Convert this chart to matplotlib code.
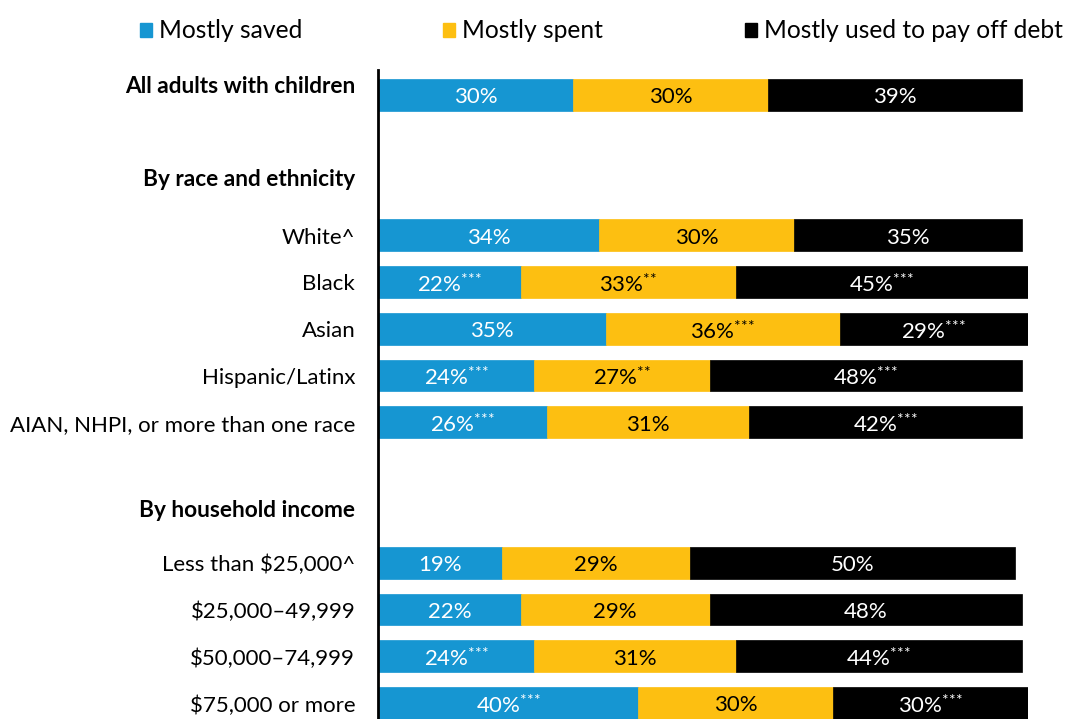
import matplotlib
matplotlib.use("Agg")
import matplotlib.pyplot as plt
from matplotlib.patches import Rectangle

plt.rcParams['font.family'] = ['Lato', 'DejaVu Sans']
plt.rcParams['mathtext.fontset'] = 'custom'
plt.rcParams['mathtext.rm'] = 'Lato'
plt.rcParams['mathtext.it'] = 'Lato'
plt.rcParams['mathtext.bf'] = 'Lato:bold'

# Row labels (positions in row units, top to bottom)
categories = ["All adults with children",
              "White^", "Black", "Asian", "Hispanic/Latinx",
              "AIAN, NHPI, or more than one race",
              "Less than $25,000^", "$25,000\u201349,999",
              "$50,000\u201374,999", "$75,000 or more"]
row_pos = [0, 3, 4, 5, 6, 7, 10, 11, 12, 13]

headings = ["By race and ethnicity", "By household income"]
heading_pos = [1.77, 8.84]

series = ["Mostly saved", "Mostly spent", "Mostly used to pay off debt"]
saved = [30, 34, 22, 35, 24, 26, 19, 22, 24, 40]
spent = [30, 30, 33, 36, 27, 31, 29, 29, 31, 30]
debt = [39, 35, 45, 29, 48, 42, 50, 48, 44, 30]

saved_sig = ["", "", "***", "", "***", "***", "", "", "***", "***"]
spent_sig = ["", "", "**", "***", "**", "", "", "", "", ""]
debt_sig = ["", "", "***", "***", "***", "***", "", "", "***", "***"]

colors = ["#1696d2", "#fdbf11", "#000000"]
text_colors = ["white", "black", "white"]

fig = plt.figure(figsize=(10.66, 7.19), dpi=100)
ax = fig.add_axes([378 / 1066, 0, 650 / 1066, (719 - 70) / 719])

bar_h = 0.68
text_dy = 0.05
values = [saved, spent, debt]
sigs = [saved_sig, spent_sig, debt_sig]
left = [0] * len(categories)
for k in range(3):
    ax.barh(row_pos, values[k], left=left, height=bar_h, color=colors[k],
            edgecolor=colors[k], linewidth=0.5, zorder=2)
    for i, v in enumerate(values[k]):
        sig = sigs[k][i]
        stars = "".join("{*}" for _ in sig)
        label = f"{v}%" + (rf"$^{{{stars}}}$" if sig else "")
        ax.text(left[i] + v / 2, row_pos[i] + text_dy, label, ha="center",
                va="center", color=text_colors[k], fontsize=16, zorder=3)
    left = [l + v for l, v in zip(left, values[k])]

ax.set_xlim(0, 100)
ax.set_ylim(13.34, -0.53)
for s in ["top", "right", "bottom"]:
    ax.spines[s].set_visible(False)
ax.spines["left"].set_linewidth(2)
ax.spines["left"].set_zorder(4)
ax.set_xticks([])
ax.set_yticks([])

# Category labels
for name, y in zip(categories, row_pos):
    bold = name.startswith("All adults")
    ax.text(-3.5, y + text_dy - (0.23 if bold else 0), name, ha="right",
            va="center", fontsize=16.3 if bold else 16,
            fontweight="bold" if bold else "normal", clip_on=False)
for name, y in zip(headings, heading_pos):
    ax.text(-3.5, y + text_dy, name, ha="right", va="center", fontsize=16.3,
            fontweight="bold", clip_on=False)

# Legend across the top
leg_x = [140, 443, 745]
for x, c, name in zip(leg_x, colors, series):
    fig.patches.append(Rectangle((x / 1066, 1 - 37 / 719), 12 / 1066, 14 / 719,
                                 transform=fig.transFigure, color=c))
    fig.text((x + 19) / 1066, 1 - 31 / 719, name, ha="left", va="center",
             fontsize=17.7)

fig.savefig("out.png", dpi=100)
